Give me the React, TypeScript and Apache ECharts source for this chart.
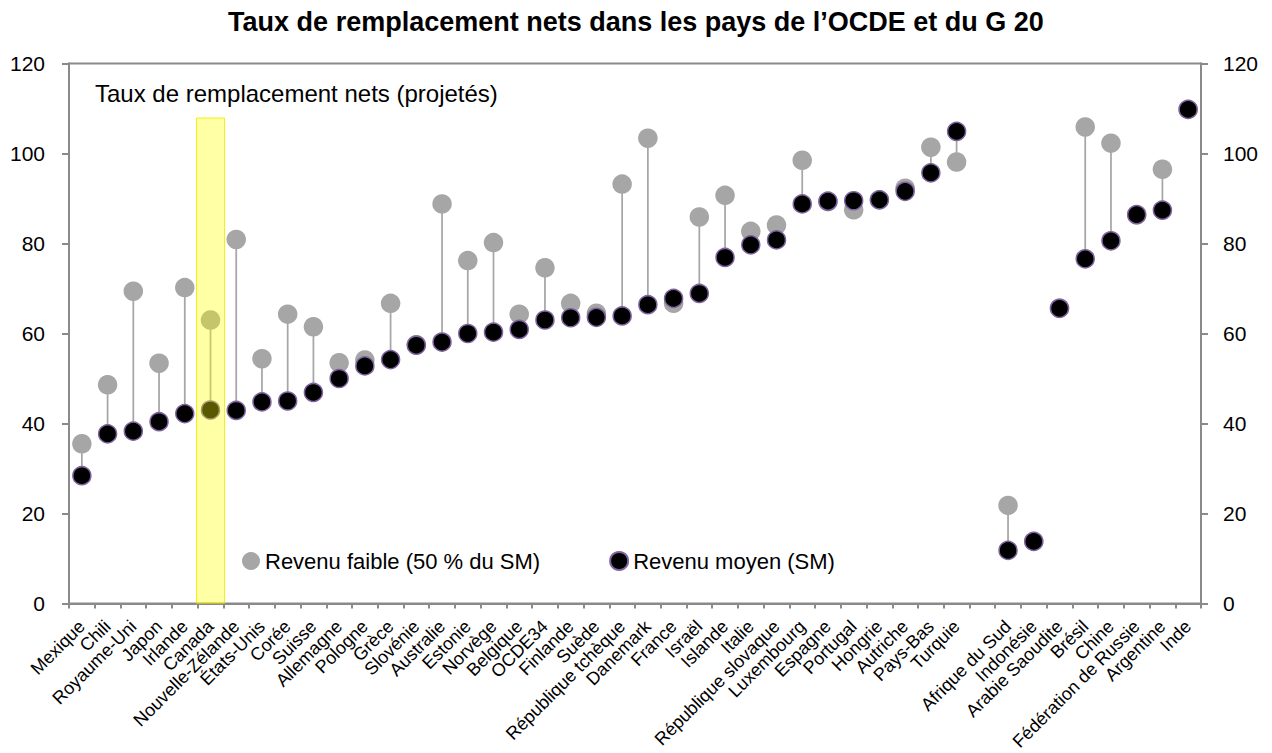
import React, { useEffect, useRef } from 'react';
import * as echarts from 'echarts';

const FONT = "'Liberation Sans', Arial, sans-serif";

const TITLE = "Taux de remplacement nets dans les pays de l’OCDE et du G 20";
const ANNOTATION = 'Taux de remplacement nets (projetés)';

const categories = [
  'Mexique', 'Chili', 'Royaume-Uni', 'Japon', 'Irlande', 'Canada', 'Nouvelle-Zélande', 'États-Unis',
  'Corée', 'Suisse', 'Allemagne', 'Pologne', 'Grèce', 'Slovénie', 'Australie', 'Estonie', 'Norvège',
  'Belgique', 'OCDE34', 'Finlande', 'Suède', 'République tchèque', 'Danemark', 'France', 'Israël',
  'Islande', 'Italie', 'République slovaque', 'Luxembourg', 'Espagne', 'Portugal', 'Hongrie',
  'Autriche', 'Pays-Bas', 'Turquie', '', 'Afrique du Sud', 'Indonésie', 'Arabie Saoudite', 'Brésil',
  'Chine', 'Fédération de Russie', 'Argentine', 'Inde',
];

const lowIncome: (number | null)[] = [
  35.5, 48.6, 69.4, 53.4, 70.2, 63.0, 80.9, 54.4,
  64.3, 61.5, 53.5, 54.1, 66.7, 57.5, 88.8, 76.2, 80.2,
  64.3, 74.6, 66.7, 64.5, 93.2, 103.4, 66.7, 85.9,
  90.7, 82.7, 84.1, 98.5, 89.3, 87.5, 89.7,
  92.3, 101.4, 98.1, null, 21.8, 13.8, 65.6, 105.9,
  102.3, 86.4, 96.5, 109.8,
];

const averageIncome: (number | null)[] = [
  28.4, 37.7, 38.3, 40.4, 42.2, 43.0, 42.9, 44.8,
  45.0, 46.9, 50.0, 52.8, 54.2, 57.4, 58.1, 60.0, 60.3,
  60.9, 63.0, 63.5, 63.6, 63.9, 66.4, 67.8, 68.9,
  76.9, 79.7, 80.8, 88.8, 89.4, 89.5, 89.7,
  91.6, 95.7, 104.9, null, 11.8, 13.8, 65.6, 76.6,
  80.6, 86.4, 87.4, 109.8,
];

const yTicks = { min: 0, max: 120, interval: 20 };

const highlightCategory = 'Canada';
const highlightTop = 108;

const LOW_NAME = 'Revenu faible (50 % du SM)';
const AVG_NAME = 'Revenu moyen (SM)';

const W = 1272;
const H = 753;

export default function App() {
  const ref = useRef<HTMLDivElement>(null);

  useEffect(() => {
    if (!ref.current) return;
    const chart = echarts.init(ref.current, undefined, { renderer: 'svg', width: W, height: H });

    const stems = categories
      .map((_, i) => {
        const a = lowIncome[i];
        const b = averageIncome[i];
        if (a == null || b == null) return null;
        return [i, a, b];
      })
      .filter((d) => d !== null) as number[][];

    const highlightData = categories.map((c) => (c === highlightCategory ? highlightTop : '-'));

    const axisColor = '#8a8a8a';

    const yAxisBase = {
      type: 'value',
      min: yTicks.min,
      max: yTicks.max,
      interval: yTicks.interval,
      splitLine: { show: false },
      axisLine: { show: true, lineStyle: { color: axisColor, width: 2 } },
      axisTick: { show: true, length: 7, lineStyle: { color: axisColor, width: 2 } },
    };

    const option: any = {
      animation: false,
      backgroundColor: '#ffffff',
      title: {
        text: TITLE,
        left: 'center',
        top: 3,
        textStyle: { fontFamily: FONT, fontSize: 27, fontWeight: 'bold', color: '#000' },
      },
      grid: {
        left: 69,
        right: 71,
        top: 63.5,
        bottom: 141.5,
        show: true,
        borderColor: axisColor,
        borderWidth: 2,
        backgroundColor: 'transparent',
      },
      legend: {
        data: [LOW_NAME, AVG_NAME],
        left: 237,
        top: 545,
        icon: 'circle',
        itemWidth: 18,
        itemHeight: 18,
        itemGap: 69,
        textStyle: { fontFamily: FONT, fontSize: 22, color: '#000' },
      },
      xAxis: {
        type: 'category',
        data: categories,
        boundaryGap: true,
        axisLine: { show: true, lineStyle: { color: axisColor, width: 2 } },
        axisTick: { show: true, length: 5, interval: 0, lineStyle: { color: axisColor, width: 2 } },
        axisLabel: {
          interval: 0,
          rotate: 45,
          margin: 20,
          fontFamily: FONT,
          fontSize: 18,
          color: '#000',
        },
        splitLine: { show: false },
      },
      yAxis: [
        {
          ...yAxisBase,
          position: 'left',
          axisLabel: { margin: 24, fontFamily: FONT, fontSize: 21, color: '#000' },
        },
        {
          ...yAxisBase,
          position: 'right',
          axisLabel: { margin: 22, fontFamily: FONT, fontSize: 21, color: '#000' },
        },
      ],
      graphic: [
        {
          type: 'text',
          left: 95,
          top: 81,
          style: {
            text: ANNOTATION,
            fontFamily: FONT,
            fontSize: 24,
            fill: '#000',
          },
          z: 100,
        },
      ],
      series: [
        {
          type: 'custom',
          name: 'stems',
          data: stems,
          encode: { x: 0, y: [1, 2] },
          z: 1,
          renderItem: (params: any, api: any) => {
            const p1 = api.coord([api.value(0), api.value(1)]);
            const p2 = api.coord([api.value(0), api.value(2)]);
            return {
              type: 'line',
              shape: { x1: p1[0], y1: p1[1], x2: p2[0], y2: p2[1] },
              style: { stroke: '#a6a6a6', lineWidth: 1.75 },
            };
          },
        },
        {
          type: 'scatter',
          name: LOW_NAME,
          data: lowIncome.map((v) => (v == null ? '-' : v)),
          symbol: 'circle',
          symbolSize: 19.5,
          itemStyle: { color: '#a6a6a6', opacity: 1 },
          z: 2,
        },
        {
          type: 'scatter',
          name: AVG_NAME,
          data: averageIncome.map((v) => (v == null ? '-' : v)),
          symbol: 'circle',
          symbolSize: 18,
          itemStyle: { color: '#000000', borderColor: '#7f63a1', borderWidth: 1.5, opacity: 1 },
          z: 3,
        },
        {
          type: 'bar',
          name: 'highlight',
          data: highlightData,
          barWidth: 29,
          itemStyle: {
            color: 'rgba(255,255,0,0.35)',
            borderColor: 'rgba(240,240,0,0.9)',
            borderWidth: 1,
          },
          z: 10,
          silent: true,
        },
      ],
    };

    chart.setOption(option);
    return () => chart.dispose();
  }, []);

  return (
    <div
      ref={ref}
      style={{ position: 'fixed', left: 0, top: 0, width: W, height: H, background: '#fff' }}
    />
  );
}
